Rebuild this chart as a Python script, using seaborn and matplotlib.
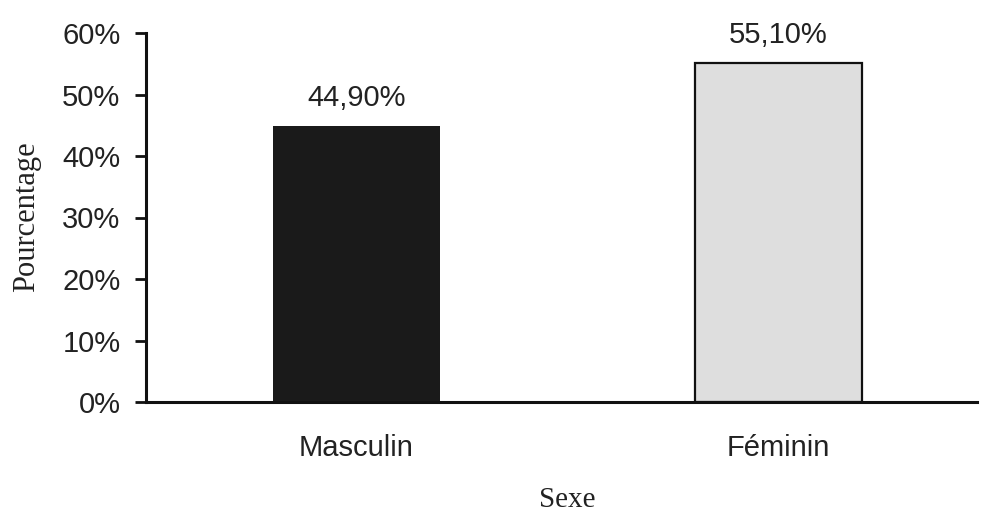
import matplotlib
matplotlib.use("Agg")
import matplotlib.pyplot as plt
import seaborn as sns
import pandas as pd
from matplotlib.ticker import FixedLocator

categories = ["Masculin", "Féminin"]
values = [44.9, 55.1]
value_labels = ["44,90%", "55,10%"]
ytick_values = [0, 10, 20, 30, 40, 50, 60]
ytick_labels = ["0%", "10%", "20%", "30%", "40%", "50%", "60%"]
bar_colors = ["#1a1a1a", "#dedede"]

df = pd.DataFrame({"Sexe": categories, "Pourcentage": values})

sns.set_style("white")
plt.rcParams["font.family"] = ["Liberation Sans", "DejaVu Sans"]

fig = plt.figure(figsize=(9.83, 5.16), dpi=100)
ax = fig.add_axes([145.5 / 983, 1 - 402 / 516, (989.5 - 145.5) / 983, (402 - 33) / 516])

sns.barplot(data=df, x="Sexe", y="Pourcentage", hue="Sexe", palette=bar_colors,
            legend=False, width=0.396, ax=ax, saturation=1)

for i, patch in enumerate(ax.patches):
    if i == 1:
        patch.set_edgecolor("#111111")
        patch.set_linewidth(1.6)
    else:
        patch.set_edgecolor(bar_colors[0])
        patch.set_linewidth(0)

for i, (v, lab) in enumerate(zip(values, value_labels)):
    ax.text(i, v + 2.3, lab, ha="center", va="bottom", fontsize=21, color="#222222")

ax.set_xlim(-0.5, 1.5)
ax.set_ylim(0, 60)
ax.set_yticks(ytick_values)
ax.set_yticklabels(ytick_labels, fontsize=21, color="#222222")
ax.set_xticks([0, 1])
ax.set_xticklabels(categories, fontsize=21, color="#222222")
ax.xaxis.set_minor_locator(FixedLocator([0.5]))
ax.tick_params(axis="x", which="major", length=0, pad=23)
ax.tick_params(axis="x", which="minor", length=8, width=2, direction="out", color="#111111")
ax.tick_params(axis="y", which="major", length=8, width=2, direction="out", color="#111111", pad=10, left=True)

ax.set_xlabel("")
ax.set_ylabel("")
for s in ["top", "right"]:
    ax.spines[s].set_visible(False)
for s in ["left", "bottom"]:
    ax.spines[s].set_linewidth(2.2)
    ax.spines[s].set_color("#111111")
ax.spines["bottom"].set_bounds(-0.5, 1.47)

fig.text(27 / 983, 1 - 217 / 516, "Pourcentage", rotation=90, ha="center", va="center",
         fontsize=22, family=["Liberation Serif", "DejaVu Serif"], color="#222222")
fig.text(567 / 983, 1 - 500 / 516, "Sexe", ha="center", va="center",
         fontsize=21, family=["Liberation Serif", "DejaVu Serif"], color="#222222")

fig.savefig("out.png", dpi=100)
